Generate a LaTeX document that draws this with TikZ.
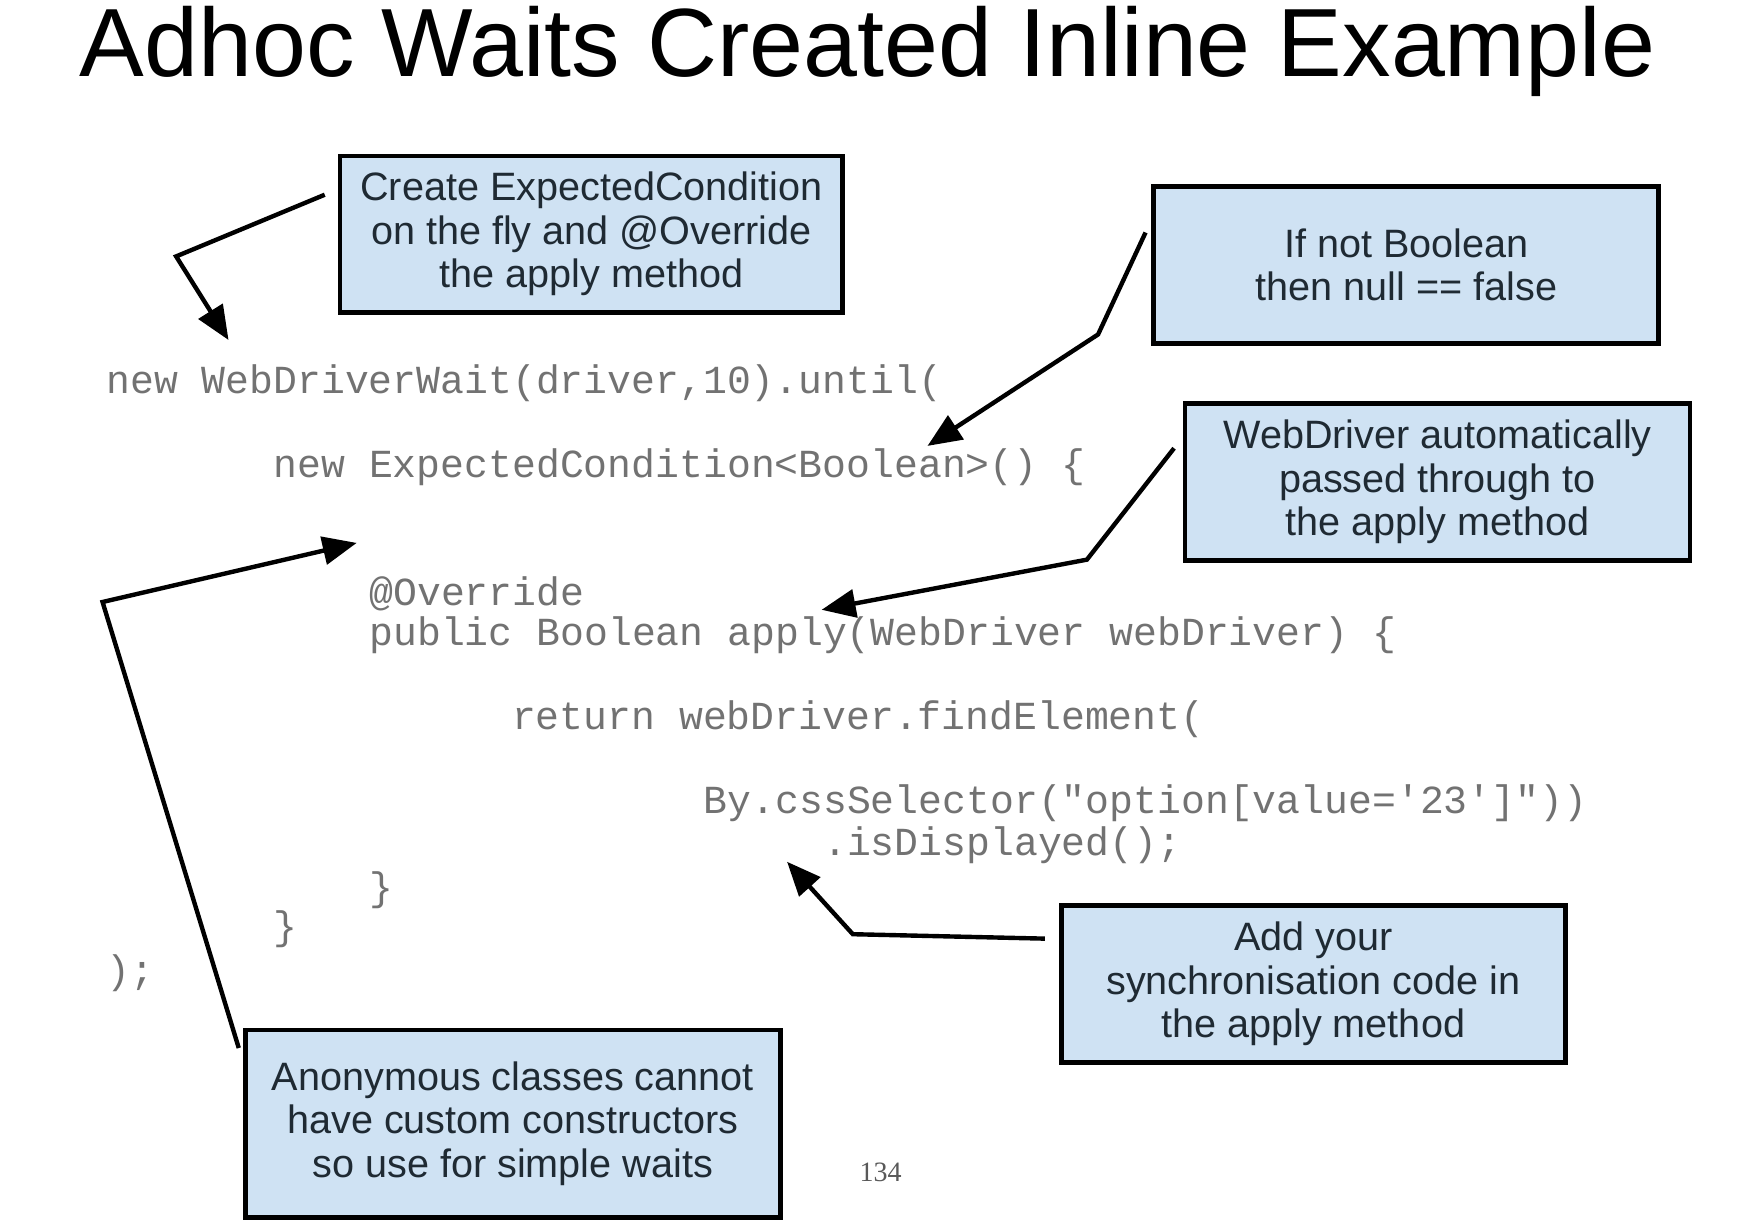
\documentclass[tikz,border=0pt]{standalone}
\usepackage{fontspec}
\setmainfont{Liberation Sans}
\newfontfamily\codefont{Liberation Mono}
\newfontfamily\numfont{Liberation Serif}
\usetikzlibrary{arrows.meta}
\definecolor{notefill}{HTML}{CFE2F3}
\definecolor{notetext}{HTML}{1F2A33}
\definecolor{codegray}{HTML}{727272}
\begin{document}
\begin{tikzpicture}[x=0.5575pt, y=-0.5575pt,
  note/.style={draw=black, line width=2.4pt, fill=notefill, text=notetext, align=center, inner sep=0pt, font=\fontsize{19.8}{21.7}\selectfont},
  code/.style={anchor=base west, inner sep=0pt, text=codegray, font=\codefont\fontsize{19.9}{22}\selectfont},
  callout/.style={line width=2.2pt, shorten <=7pt, -{Triangle[length=17pt,width=14pt]}}]
\useasboundingbox (0,0) rectangle (1568,1103);
\node[anchor=base west, inner sep=0pt, font=\fontsize{48.5}{50}\selectfont] (title) at (71,69) {Adhoc Waits Created Inline Example};
% code lines
\node[code] (code1) at (95,353) {new WebDriverWait(driver,10).until(};
\node[code] (code2) at (245,428) {new ExpectedCondition<Boolean>() \{};
\node[code] (code3) at (331,543) {@Override};
\node[code] (code4) at (331,579) {public Boolean apply(WebDriver webDriver) \{};
\node[code] (code5) at (459,654) {return webDriver.findElement(};
\node[code] (code6) at (631,730) {By.cssSelector("option[value='23']"))};
\node[code] (code7) at (738,767) {.isDisplayed();};
\node[code] (code8) at (331,808) {\}};
\node[code] (code9) at (245,843) {\}};
\node[code] (code10) at (95,882) {);};
% notes
\node[note, minimum width=251.4pt, minimum height=78.1pt] (create) at (530.5,210) {Create ExpectedCondition\\on the fly and @Override\\the apply method};
\node[note, minimum width=252.5pt, minimum height=78.6pt] (boolean) at (1261.5,237.5) {If not Boolean\\then null == false};
\node[note, minimum width=252.5pt, minimum height=78.6pt] (passed) at (1289.5,432.5) {WebDriver automatically\\passed through to\\the apply method};
\node[note, minimum width=252pt, minimum height=78.6pt] (sync) at (1178,882.5) {Add your\\synchronisation code in\\the apply method};
\node[note, minimum width=267.6pt, minimum height=93.7pt] (anon) at (460,1008) {Anonymous classes cannot\\have custom constructors\\so use for simple waits};
\node[anchor=base, inner sep=0pt, text=black!65, font=\numfont\fontsize{14}{16}\selectfont] (page) at (790,1060) {134};
% callouts
\coordinate (createbend) at (158,230);
\coordinate (createtip) at (205,305);
\draw[callout] (create.170) -- (createbend) -- (createtip);
\coordinate (booleanbend) at (985,300);
\coordinate (booleantip) at (832,400);
\draw[callout] (boolean.170) -- (booleanbend) -- (booleantip);
\coordinate (passedbend) at (975,502);
\coordinate (passedtip) at (737,547);
\draw[callout] (passed.170) -- (passedbend) -- (passedtip);
\coordinate (syncbend) at (765,838);
\coordinate (synctip) at (706,773);
\draw[callout] (sync.170) -- (syncbend) -- (synctip);
\coordinate (anonbend) at (92,540);
\coordinate (anontip) at (320,487);
\draw[callout] (anon.167.5) -- (anonbend) -- (anontip);
\end{tikzpicture}
\end{document}
